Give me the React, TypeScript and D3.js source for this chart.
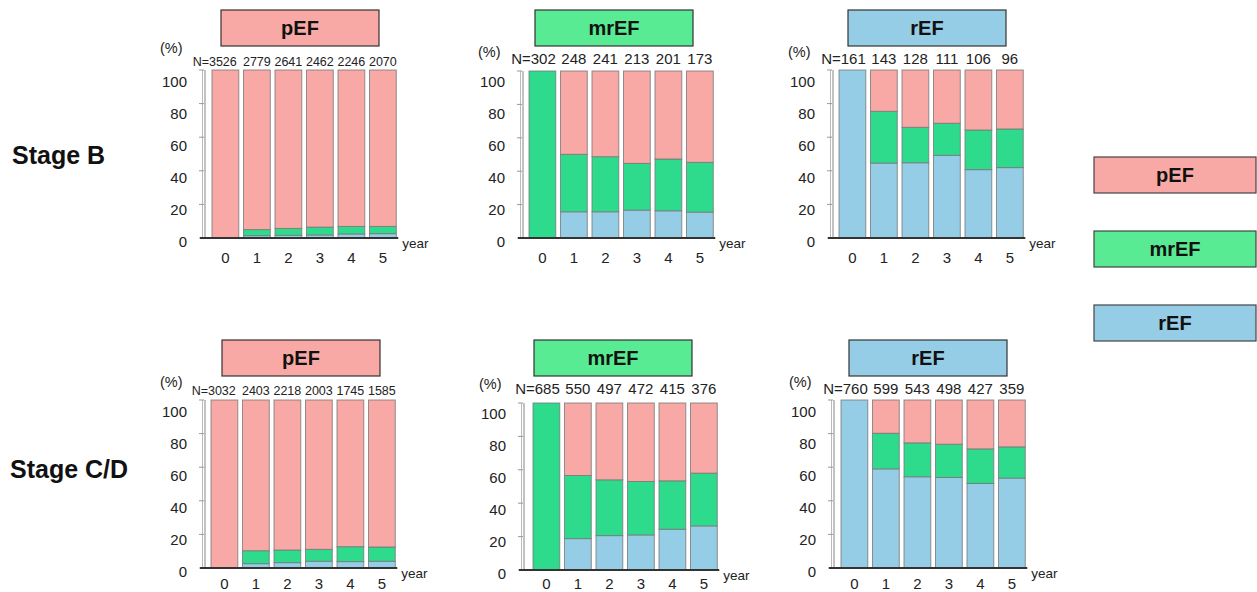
import React from "react";
import * as d3 from "d3";

const years = ["0", "1", "2", "3", "4", "5"];
const groups = ["pEF", "mrEF", "rEF"];
const stages = ["Stage B", "Stage C/D"];
const yTicks = [0, 20, 40, 60, 80, 100];

// Stage B
const bN_pEF = ["N=3526", "2779", "2641", "2462", "2246", "2070"];
const bN_mrEF = ["N=302", "248", "241", "213", "201", "173"];
const bN_rEF = ["N=161", "143", "128", "111", "106", "96"];
const b_pEF_rEF = [0, 1.4, 1.6, 1.8, 2.4, 2.6];
const b_pEF_mrEF = [0, 3.6, 4.1, 4.7, 4.5, 4.3];
const b_mrEF_rEF = [0, 15.7, 15.7, 16.7, 16.3, 15.5];
const b_mrEF_mrEF = [100, 34.4, 33.0, 28.0, 31.0, 29.8];
const b_rEF_rEF = [100, 44.6, 44.8, 49.2, 40.7, 41.9];
const b_rEF_mrEF = [0, 30.8, 21.1, 19.1, 23.6, 23.0];

// Stage C/D
const cN_pEF = ["N=3032", "2403", "2218", "2003", "1745", "1585"];
const cN_mrEF = ["N=685", "550", "497", "472", "415", "376"];
const cN_rEF = ["N=760", "599", "543", "498", "427", "359"];
const c_pEF_rEF = [0, 2.6, 3.2, 4.0, 3.8, 4.0];
const c_pEF_mrEF = [0, 7.7, 7.5, 7.1, 8.9, 8.5];
const c_mrEF_rEF = [0, 18.8, 20.6, 21.0, 24.4, 26.4];
const c_mrEF_mrEF = [100, 37.8, 33.4, 32.0, 29.0, 31.6];
const c_rEF_rEF = [100, 59.0, 54.3, 53.9, 50.3, 53.5];
const c_rEF_mrEF = [0, 21.2, 20.2, 19.8, 20.6, 18.6];

const COLORS: Record<string, string> = { pEF: "#F9A9A5", mrEF: "#2EDB8D", rEF: "#96CDE6" };
const TITLE_COLORS: Record<string, string> = { pEF: "#F9A9A5", mrEF: "#58EB93", rEF: "#96CDE6" };

const FONT = "'Liberation Sans', Arial, Helvetica, sans-serif";

type PanelData = { title: string; n: string[]; rEF: number[]; mrEF: number[] };

const panelsData: PanelData[] = [
  { title: "pEF", n: bN_pEF, rEF: b_pEF_rEF, mrEF: b_pEF_mrEF },
  { title: "mrEF", n: bN_mrEF, rEF: b_mrEF_rEF, mrEF: b_mrEF_mrEF },
  { title: "rEF", n: bN_rEF, rEF: b_rEF_rEF, mrEF: b_rEF_mrEF },
  { title: "pEF", n: cN_pEF, rEF: c_pEF_rEF, mrEF: c_pEF_mrEF },
  { title: "mrEF", n: cN_mrEF, rEF: c_mrEF_rEF, mrEF: c_mrEF_mrEF },
  { title: "rEF", n: cN_rEF, rEF: c_rEF_rEF, mrEF: c_rEF_mrEF },
];

// layout (positions only)
const layout = [
  { axisX: 204, base: 238, top: 70, barX: 212, titleX: 221, titleY: 10, nDy: 0, xLabDy: 25, pctDy: -4 },
  { axisX: 522, base: 238, top: 71, barX: 529, titleX: 535, titleY: 10, nDy: -2, xLabDy: 25, pctDy: 0 },
  { axisX: 832, base: 238, top: 70, barX: 839, titleX: 848, titleY: 10, nDy: -2, xLabDy: 25, pctDy: 0 },
  { axisX: 204, base: 568, top: 400, barX: 211, titleX: 222, titleY: 340, nDy: -1, xLabDy: 21, pctDy: 0 },
  { axisX: 523, base: 570, top: 403, barX: 533, titleX: 534, titleY: 340, nDy: -4, xLabDy: 19, pctDy: 0 },
  { axisX: 833, base: 568, top: 400, barX: 841, titleX: 849, titleY: 340, nDy: -2, xLabDy: 21, pctDy: 0 },
];

const STEP = 31.5;
const PAD = 0.15;

function Panel({ d, l }: { d: PanelData; l: (typeof layout)[number] }) {
  const x = d3
    .scaleBand<string>()
    .domain(years)
    .range([l.barX, l.barX + STEP * (years.length - PAD)])
    .paddingInner(PAD)
    .paddingOuter(0);
  const y = d3.scaleLinear().domain([0, 100]).range([l.base, l.top]);
  const yLab = d3.scaleLinear().domain([0, 100]).range([l.base + 4, l.base - 156]);

  const rows = years.map((yr, i) => ({
    year: yr,
    rEF: d.rEF[i],
    mrEF: d.mrEF[i],
    pEF: 100 - d.rEF[i] - d.mrEF[i],
  }));
  const stack = d3.stack<any>().keys(["rEF", "mrEF", "pEF"])(rows);
  const bw = x.bandwidth();
  const lastRight = (x("5") as number) + bw;
  const wide = d.n[1].length >= 4;

  return (
    <g>
      <rect
        x={l.titleX}
        y={l.titleY}
        width={158}
        height={36}
        fill={TITLE_COLORS[d.title]}
        stroke="#333"
        strokeWidth={1.2}
      />
      <text
        x={l.titleX + 79}
        y={l.titleY + 25}
        textAnchor="middle"
        fontFamily={FONT}
        fontWeight="bold"
        fontSize={20}
        fill="#111"
      >
        {d.title}
      </text>
      <text x={l.axisX - 44} y={l.base - 181 + l.pctDy} fontFamily={FONT} fontSize={14.5} fill="#222">
        (%)
      </text>
      {/* y axis */}
      <line x1={l.axisX - 1.5} x2={l.axisX - 1.5} y1={y(100)} y2={l.base} stroke="#bbb" strokeWidth={1} />
      <line x1={l.axisX + 1} x2={l.axisX + 1} y1={y(100)} y2={l.base} stroke="#999" strokeWidth={1.2} />
      {yTicks.map((t) => (
        <g key={t}>
          <line x1={l.axisX - 5} x2={l.axisX} y1={y(t)} y2={y(t)} stroke="#999" strokeWidth={1} />
          <text
            x={l.axisX - 17}
            y={yLab(t)}
            dy="0.35em"
            textAnchor="end"
            fontFamily={FONT}
            fontSize={15}
            fill="#222"
          >
            {t}
          </text>
        </g>
      ))}
      {/* bars */}
      {stack.map((s) =>
        s.map((seg, i) => {
          const h = y(seg[0]) - y(seg[1]);
          if (h <= 0.01) return null;
          return (
            <rect
              key={s.key + i}
              x={x(years[i])}
              y={y(seg[1])}
              width={bw}
              height={h}
              fill={COLORS[s.key]}
              stroke="#777"
              strokeOpacity={0.8}
              strokeWidth={1}
            />
          );
        })
      )}
      {/* baseline */}
      <line x1={l.axisX - 4} x2={lastRight + 2} y1={l.base} y2={l.base} stroke="#333" strokeWidth={2} />
      {/* N labels */}
      {years.map((yr, i) => (
        <text
          key={"n" + yr}
          x={i === 0 ? (x(yr) as number) + bw - (wide ? 2 : 0) : (x(yr) as number) + bw / 2}
          y={l.base - 172 + l.nDy}
          textAnchor={i === 0 ? "end" : "middle"}
          fontFamily={FONT}
          fontSize={wide ? 12.5 : 15}
          fill="#222"
        >
          {d.n[i]}
        </text>
      ))}
      {/* x labels */}
      {years.map((yr) => (
        <text
          key={"x" + yr}
          x={(x(yr) as number) + bw / 2}
          y={l.base + l.xLabDy}
          textAnchor="middle"
          fontFamily={FONT}
          fontSize={15}
          fill="#222"
        >
          {yr}
        </text>
      ))}
      <text x={lastRight + 6} y={l.base + 10} fontFamily={FONT} fontSize={13.5} fill="#222">
        year
      </text>
    </g>
  );
}

export default function App() {
  const legendY = [157, 231, 305];
  return (
    <svg
      width={1257}
      height={592}
      style={{ position: "absolute", left: 0, top: 0, background: "#fff" }}
    >
      <rect x={0} y={0} width={1257} height={592} fill="#fff" />
      <text x={12} y={164} fontFamily={FONT} fontWeight="bold" fontSize={25} fill="#111">
        {stages[0]}
      </text>
      <text x={10} y={478} fontFamily={FONT} fontWeight="bold" fontSize={25} fill="#111">
        {stages[1]}
      </text>
      {panelsData.map((d, i) => (
        <Panel key={i} d={d} l={layout[i]} />
      ))}
      {groups.map((g, i) => (
        <g key={g}>
          <rect
            x={1094}
            y={legendY[i]}
            width={162}
            height={36}
            fill={TITLE_COLORS[g]}
            stroke="#444"
            strokeWidth={1.2}
          />
          <text
            x={1094 + 81}
            y={legendY[i] + 25}
            textAnchor="middle"
            fontFamily={FONT}
            fontWeight="bold"
            fontSize={20}
            fill="#111"
          >
            {g}
          </text>
        </g>
      ))}
    </svg>
  );
}
